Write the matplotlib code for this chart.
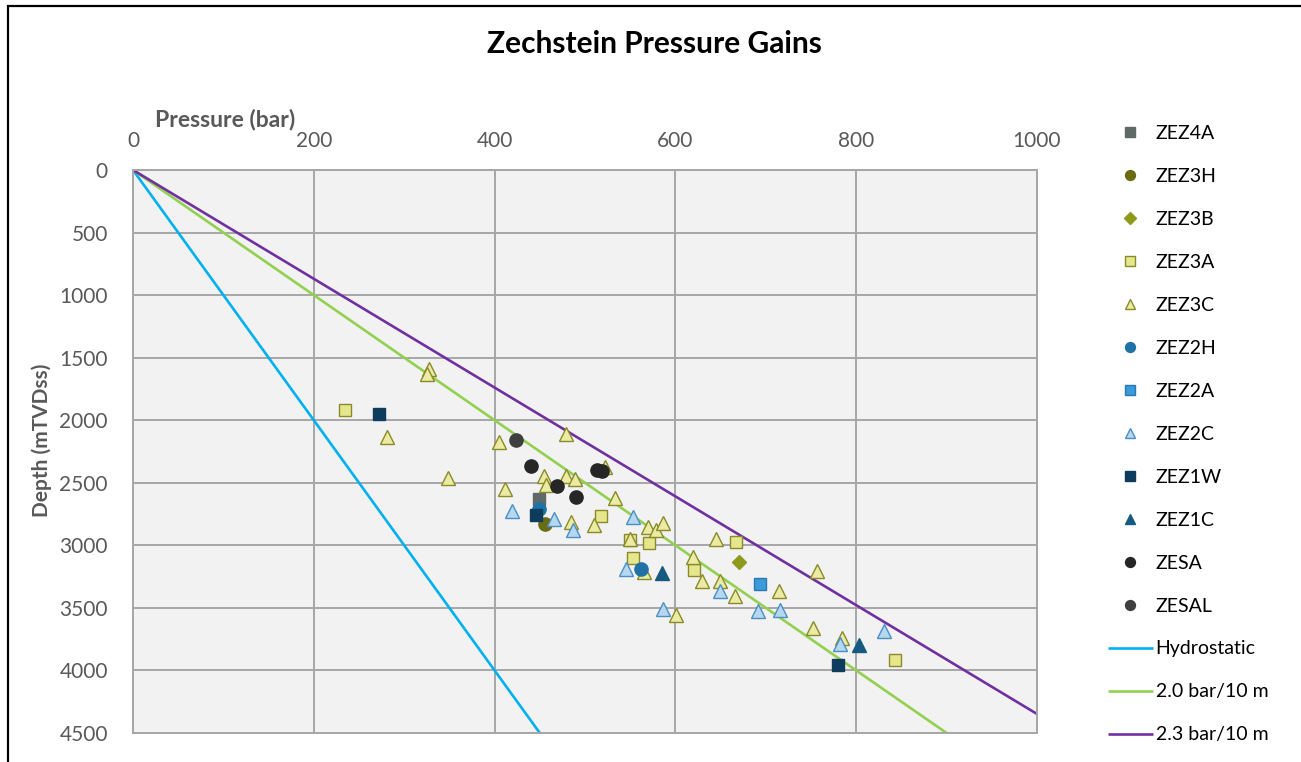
import matplotlib
matplotlib.use("Agg")
import matplotlib.pyplot as plt
from matplotlib.patches import Rectangle
from matplotlib.lines import Line2D

# ---- data: (pressure in bar, depth in m TVDss) per Zechstein unit ----
zez4a_p = [448.6]
zez4a_d = [2632]

zez3h_p = [456.0]
zez3h_d = [2827]

zez3b_p = [670.0]
zez3b_d = [3133]

zez3a_p = [234.6, 518.0, 549.3, 571.0, 552.6, 620.1, 667.4, 843.4]
zez3a_d = [1920, 2765, 2955, 2979, 3104, 3195, 2976, 3915]

zez3c_p = [327.0, 325.0, 280.6, 404.4, 347.9, 411.7, 479.0, 454.1, 457.1, 479.0,
           488.9, 522.4, 484.4, 509.5, 532.7, 569.6, 578.5, 585.8, 549.5, 564.8,
           601.0, 644.4, 619.4, 629.4, 648.9, 666.3, 715.0, 756.7, 751.9, 784.3]
zez3c_d = [1587, 1632, 2133, 2173, 2459, 2550, 2112, 2448, 2520, 2448,
           2467, 2373, 2813, 2840, 2621, 2853, 2875, 2819, 2950, 3213,
           3555, 2947, 3093, 3285, 3285, 3405, 3365, 3205, 3659, 3739]

zez2h_p = [448.6, 562.3]
zez2h_d = [2712, 3190]

zez2a_p = [693.1]
zez2a_d = [3307]

zez2c_p = [419.8, 465.2, 486.7, 552.6, 544.9, 585.8, 648.9, 691.0, 716.1, 781.7, 830.4]
zez2c_d = [2725, 2792, 2875, 2773, 3187, 3507, 3368, 3528, 3520, 3792, 3685]

zez1w_p = [272.0, 445.7, 780.0]
zez1w_d = [1947, 2760, 3955]

zez1c_p = [585.2, 802.8]
zez1c_d = [3219, 3800]

zesa_p = [440.2, 468.9, 490.0, 513.0, 518.5]
zesa_d = [2368, 2525, 2613, 2398, 2405]

zesal_p = [423.9]
zesal_d = [2155]

# reference gradients (bar per metre) and depth range for the trend lines
gradient_names = ["Hydrostatic", "2.0 bar/10 m", "2.3 bar/10 m"]
gradients = [0.1, 0.2, 0.23]
line_depths = [0, 4500]

x_ticks = [0, 200, 400, 600, 800, 1000]
y_ticks = [0, 500, 1000, 1500, 2000, 2500, 3000, 3500, 4000, 4500]

# ---- styling ----
plt.rcParams["font.family"] = ["Lato", "DejaVu Sans"]
W, H = 1301, 762
fig = plt.figure(figsize=(W / 100, H / 100), dpi=100)
fig.patch.set_facecolor("white")

# outer chart frame
fig.patches.append(Rectangle((8 / W, -0.05), 1.2, 1 - 6 / H + 0.05,
                             transform=fig.transFigure, fill=False,
                             edgecolor="black", linewidth=1.6, zorder=0))

left, right, top, bottom = 133, 1037, 170, 733
ax = fig.add_axes([left / W, (H - bottom) / H, (right - left) / W, (bottom - top) / H])
ax.set_facecolor("#F2F2F2")

grid_col = "#A6A6A6"
for s in ax.spines.values():
    s.set_color(grid_col)
    s.set_linewidth(1.4)
ax.grid(True, color=grid_col, linewidth=1.4)
ax.set_axisbelow(True)

line_cols = ["#00B0F0", "#92D050", "#7030A0"]
handles = []

series = [
    ("ZEZ4A", zez4a_p, zez4a_d, "s", 9, "#5F6967", "#5F6967"),
    ("ZEZ3H", zez3h_p, zez3h_d, "o", 9.5, "#6B6B12", "#6B6B12"),
    ("ZEZ3B", zez3b_p, zez3b_d, "D", 7.5, "#8F9A1C", "#8F9A1C"),
    ("ZEZ3A", zez3a_p, zez3a_d, "s", 9, "#E6E68C", "#8A8A2A"),
    ("ZEZ3C", zez3c_p, zez3c_d, "^", 10.5, "#EBEBA3", "#8A8A2A"),
    ("ZEZ2H", zez2h_p, zez2h_d, "o", 9.5, "#2072A6", "#2072A6"),
    ("ZEZ2A", zez2a_p, zez2a_d, "s", 9, "#3A9ADA", "#2A78AE"),
    ("ZEZ2C", zez2c_p, zez2c_d, "^", 10.5, "#B5D8F0", "#4A8FC4"),
    ("ZEZ1W", zez1w_p, zez1w_d, "s", 9, "#0E3C5C", "#0E3C5C"),
    ("ZEZ1C", zez1c_p, zez1c_d, "^", 10.5, "#175A80", "#175A80"),
    ("ZESA", zesa_p, zesa_d, "o", 9.5, "#262626", "#262626"),
    ("ZESAL", zesal_p, zesal_d, "o", 9.5, "#3F3F3F", "#3F3F3F"),
]

# trend lines first so that the points sit on top
line_handles = []
for name, g, c in zip(gradient_names, gradients, line_cols):
    ln, = ax.plot([d * g for d in line_depths], line_depths, color=c,
                  linewidth=1.9, zorder=2, label=name, solid_capstyle="butt")
    line_handles.append(ln)

for name, p, d, m, ms, fc, ec in series:
    ax.plot(p, d, linestyle="none", marker=m, markersize=ms,
            markerfacecolor=fc, markeredgecolor=ec, markeredgewidth=1.0,
            zorder=3)
    handles.append(Line2D([], [], linestyle="none", marker=m,
                          markersize=ms * 0.75, markerfacecolor=fc,
                          markeredgecolor=ec, markeredgewidth=1.0, label=name))

ax.set_xlim(0, 1000)
ax.set_ylim(4500, 0)
ax.set_xticks(x_ticks)
ax.set_yticks(y_ticks)
ax.xaxis.tick_top()
tick_col = "#595959"
ax.tick_params(axis="x", length=0, pad=13.5, labelsize=15, labelcolor=tick_col)
ax.tick_params(axis="y", length=0, pad=18, labelsize=15, labelcolor=tick_col)

fig.text(225 / W, 1 - 120 / H, "Pressure (bar)", ha="center", va="center",
         fontsize=16.5, fontweight="bold", color=tick_col)
fig.text(42 / W, 1 - 440 / H, "Depth (mTVDss)", ha="center", va="center",
         rotation=90, fontsize=15, fontweight="bold", color=tick_col)
fig.text(654 / W, 1 - 44 / H, "Zechstein Pressure Gains", ha="center",
         va="center", fontsize=21.5, fontweight="bold", color="black")

leg = fig.legend(handles=handles + line_handles, loc="upper left",
                 bbox_to_anchor=(1108 / W, 1 - 125 / H), frameon=False,
                 fontsize=14, handlelength=2.3, handletextpad=0.15,
                 labelspacing=1.335, borderaxespad=0, borderpad=0)
for t in leg.get_texts():
    t.set_color("#000000")

fig.savefig("out.png", dpi=100)
